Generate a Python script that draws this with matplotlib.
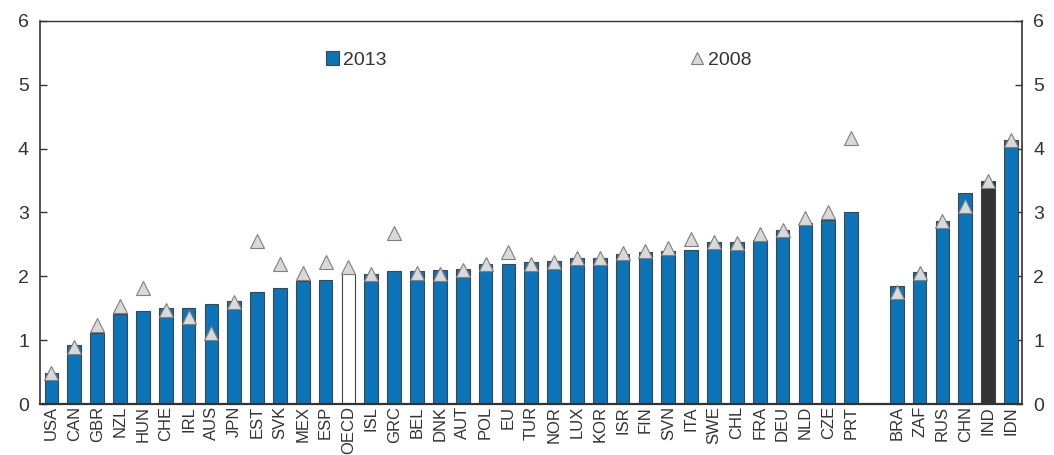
import matplotlib
matplotlib.use("Agg")
import matplotlib.pyplot as plt
from matplotlib import font_manager
import numpy as np

# Country codes, OECD group first, then partner economies after a gap
oecd_countries = ["USA", "CAN", "GBR", "NZL", "HUN", "CHE", "IRL", "AUS", "JPN",
                  "EST", "SVK", "MEX", "ESP", "OECD", "ISL", "GRC", "BEL", "DNK",
                  "AUT", "POL", "EU", "TUR", "NOR", "LUX", "KOR", "ISR", "FIN",
                  "SVN", "ITA", "SWE", "CHL", "FRA", "DEU", "NLD", "CZE", "PRT"]
partner_countries = ["BRA", "ZAF", "RUS", "CHN", "IND", "IDN"]

values_2013_oecd = [0.49, 0.92, 1.12, 1.41, 1.45, 1.50, 1.50, 1.57, 1.62,
                    1.75, 1.81, 1.92, 1.95, 2.04, 2.04, 2.08, 2.08, 2.10,
                    2.12, 2.20, 2.19, 2.22, 2.24, 2.29, 2.29, 2.35, 2.38,
                    2.39, 2.42, 2.53, 2.53, 2.57, 2.72, 2.84, 2.88, 3.01]
values_2008_oecd = [0.48, 0.90, 1.24, 1.54, 1.82, 1.48, 1.36, 1.12, 1.60,
                    2.56, 2.19, 2.05, 2.22, 2.15, 2.03, 2.68, 2.06, 2.03,
                    2.10, 2.20, 2.38, 2.20, 2.23, 2.28, 2.28, 2.36, 2.40,
                    2.44, 2.59, 2.53, 2.52, 2.67, 2.73, 2.91, 3.00, 4.17]
values_2013_partner = [1.85, 2.07, 2.87, 3.31, 3.49, 4.13]
values_2008_partner = [1.75, 2.06, 2.86, 3.10, 3.49, 4.13]

labels = oecd_countries + partner_countries
values_2013 = values_2013_oecd + values_2013_partner
values_2008 = values_2008_oecd + values_2008_partner
x = np.concatenate([np.arange(len(oecd_countries)),
                    np.arange(len(partner_countries)) + len(oecd_countries) + 1])

# condensed font if available
names = {f.name for f in font_manager.fontManager.ttflist}
family = "Liberation Sans Narrow" if "Liberation Sans Narrow" in names else "Liberation Sans"
plt.rcParams["font.family"] = [family, "DejaVu Sans"]

blue = "#0b74b8"
colors = [blue] * len(labels)
colors[labels.index("OECD")] = "white"
colors[labels.index("IND")] = "#333333"

fig, ax = plt.subplots(figsize=(10.54, 4.55), dpi=100)
fig.subplots_adjust(left=0.038, right=0.970, top=0.954, bottom=0.112)

bars = ax.bar(x, values_2013, width=0.6, color=colors, edgecolor="#444444",
              linewidth=0.8, label="2013", zorder=2)
tri, = ax.plot(x, values_2008, linestyle="none", marker="^", markersize=10,
               markerfacecolor="#d9d9d9", markeredgecolor="#7f7f7f",
               markeredgewidth=0.8, label="2008", zorder=3)

ax.set_xlim(-0.5, len(oecd_countries) + len(partner_countries) + 0.5)
ax.set_ylim(0, 6)
ax.set_yticks(range(7))
ax.set_xticks(x)
ax.set_xticklabels(labels, rotation=90, fontsize=12, color="#333333")
ax.tick_params(axis="x", length=0, pad=1.5)
ax.tick_params(axis="y", direction="in", length=5, width=1, labelsize=14,
               colors="#333333", left=True, right=True,
               labelleft=True, labelright=True, pad=8)
for side in ["left", "right", "top", "bottom"]:
    ax.spines[side].set_color("#333333")
ax.spines["bottom"].set_linewidth(1.6)
ax.spines["left"].set_linewidth(1.2)
ax.spines["right"].set_linewidth(1.2)
ax.spines["top"].set_linewidth(1.0)

ax.legend([bars, tri], ["2013", "2008"], loc="center left",
          bbox_to_anchor=(0.273, 0.898), ncol=2,
          frameon=False, fontsize=14, handlelength=0.7, handletextpad=0.2,
          columnspacing=15.6, labelcolor="#333333", markerscale=0.85)

fig.savefig("out.png", dpi=100)
